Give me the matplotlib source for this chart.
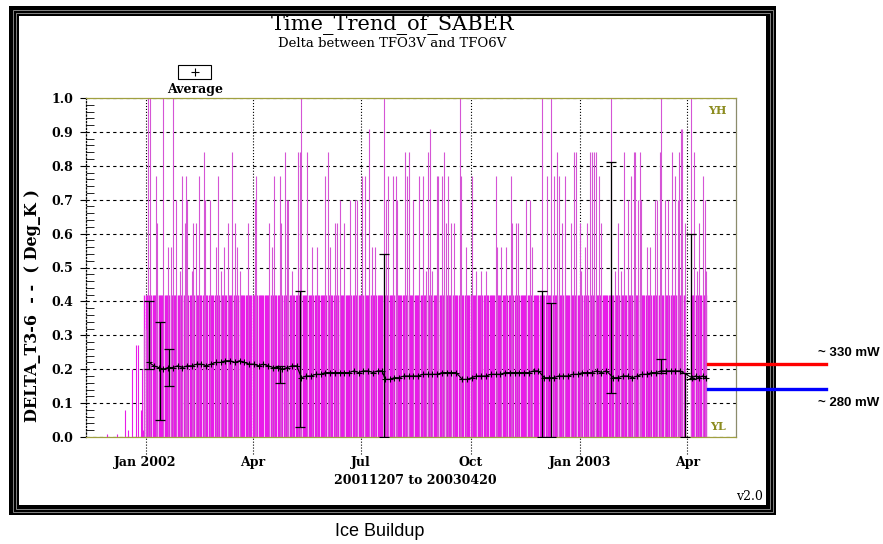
import numpy as np
import matplotlib
matplotlib.use('Agg')
import matplotlib.pyplot as plt
import matplotlib.dates as mdates
from matplotlib.patches import Rectangle
from matplotlib.lines import Line2D
from matplotlib.ticker import FuncFormatter, MultipleLocator

# dias contados desde 2002-01-01
t0 = np.datetime64('2002-01-01')

# diciembre 2001: pocos datos sueltos
dec_days = [-32, -24, -17, -15, -11, -8, -6, -4, -3, -2]
dec_max = [0.01, 0.01, 0.08, 0.02, 0.20, 0.27, 0.27, 0.08, 0.20, 0.02]

# banda densa de maximos diarios
dense_first = -1
dense_last = 471
dense_level = 0.42
gap_days = [454, 455, 456, 457]

# picos por encima de la banda (1.0 = fuera de escala)
spike_days = [-1, 0, 2, 4, 9, 10, 15, 19, 21, 23, 26, 29, 31, 33, 34, 35, 39, 40, 42, 45,
              49, 50, 54, 59, 61, 63, 66, 69, 73, 75, 77, 79, 86,
              92, 93, 104, 106, 108, 113, 114, 117, 119, 120, 123, 128, 130, 131, 136,
              140, 144, 151, 153, 155, 159, 161, 163, 167, 172, 176, 178, 182, 184, 188,
              190, 193, 200, 202, 204, 208, 210, 211, 218, 220, 221, 225,
              230, 233, 236, 237, 239, 241, 245, 246, 249, 251, 252, 254, 257, 259, 264,
              265, 269, 274, 278, 282, 286, 294, 295, 299, 303, 307, 308, 311, 313, 320,
              323, 325, 333, 337, 341, 343, 346, 347, 350, 352, 357, 360, 362,
              365, 366, 369, 371, 373, 375, 377, 378, 381, 383, 391, 394, 397, 399, 402,
              405, 408, 410, 411, 414, 415, 416, 421, 424, 428, 430, 432, 433, 436, 439,
              442, 445, 447, 448, 450, 451, 453, 458, 461, 463, 465, 468, 470, 471]
spike_max = [0.32, 0.32, 1.0, 1.0, 0.77, 0.63, 1.0, 0.56, 0.56, 1.0, 0.70, 0.49, 0.77, 0.63, 0.77, 0.70, 0.49, 0.63, 0.63, 0.77,
             0.84, 0.70, 0.70, 0.56, 0.77, 0.49, 0.56, 0.63, 0.84, 0.63, 0.56, 0.49, 0.63,
             0.70, 0.77, 0.63, 0.56, 0.77, 0.77, 0.63, 0.84, 0.70, 0.70, 0.49, 0.84, 0.84, 1.0, 0.84,
             0.56, 0.56, 0.77, 0.84, 0.56, 0.63, 0.63, 0.70, 0.63, 0.70, 0.70, 0.70, 0.77, 0.77, 0.91,
             0.56, 0.56, 1.0, 0.70, 0.77, 0.77, 0.77, 0.70, 0.84, 0.77, 0.84, 0.70,
             0.77, 0.77, 0.49, 0.84, 0.91, 0.49, 0.77, 0.77, 0.77, 0.84, 0.63, 0.77, 0.63, 0.63, 1.0,
             0.77, 0.56, 0.77, 0.49, 0.49, 0.49, 0.77, 0.56, 0.56, 0.56, 0.77, 0.63, 0.63, 0.63, 0.70,
             0.70, 0.56, 1.0, 0.77, 1.0, 0.77, 0.84, 0.77, 0.63, 0.77, 0.63, 0.84, 0.84,
             0.63, 0.49, 0.56, 0.63, 0.84, 0.84, 0.84, 0.84, 0.77, 0.63, 1.0, 0.49, 0.63, 0.49, 0.84,
             0.70, 0.77, 0.84, 0.84, 0.70, 0.84, 0.70, 0.56, 0.56, 0.70, 0.70, 0.84, 1.0, 0.70, 0.70,
             0.84, 0.77, 0.70, 0.84, 0.91, 0.91, 0.63, 1.0, 0.84, 0.49, 0.63, 0.77, 0.70, 0.49]

# promedio diario
avg_days = [3, 7, 11, 15, 19, 23, 27, 31, 35, 39, 43, 47, 51, 55, 59, 63, 67, 71, 75, 79,
            83, 87, 91, 95, 99, 103, 107, 111, 115, 119, 123, 127,
            131, 135, 139, 143, 147, 151, 155, 159, 163, 167, 171, 175, 179, 183, 187, 191, 195, 199,
            201, 205, 209, 213, 217, 221, 225, 229, 233, 237, 241, 245, 249, 253, 257, 261,
            266, 270, 274, 278, 282, 286, 290, 294, 298, 302, 306, 310, 314, 318, 322, 326, 330,
            335, 339, 343, 347, 351, 355, 359, 363, 367, 371, 375, 379, 383, 387,
            393, 397, 401, 405, 409, 413, 417, 421, 425, 429, 433, 437, 441, 445, 449,
            459, 462, 465, 468, 471]
avg_vals = [0.22, 0.21, 0.205, 0.20, 0.205, 0.205, 0.21, 0.205, 0.21, 0.21, 0.215, 0.215, 0.21, 0.215,
            0.22, 0.22, 0.225, 0.225, 0.22, 0.225, 0.22, 0.215, 0.215, 0.21, 0.215, 0.21, 0.205, 0.205,
            0.20, 0.205, 0.21, 0.21,
            0.175, 0.18, 0.18, 0.185, 0.185, 0.19, 0.19, 0.19, 0.19, 0.19, 0.19, 0.195, 0.19, 0.195,
            0.195, 0.19, 0.195, 0.195,
            0.17, 0.17, 0.175, 0.175, 0.18, 0.18, 0.18, 0.18, 0.185, 0.185, 0.185, 0.185, 0.19, 0.19,
            0.19, 0.19,
            0.17, 0.17, 0.175, 0.18, 0.18, 0.18, 0.185, 0.185, 0.185, 0.19, 0.19, 0.19, 0.19, 0.19,
            0.19, 0.195, 0.195,
            0.175, 0.175, 0.175, 0.18, 0.18, 0.18, 0.185, 0.185, 0.19, 0.19, 0.19, 0.195, 0.19, 0.195,
            0.175, 0.175, 0.18, 0.18, 0.175, 0.18, 0.185, 0.185, 0.19, 0.19, 0.195, 0.195, 0.195,
            0.195, 0.195,
            0.175, 0.18, 0.175, 0.18, 0.175]

# barras de error
bar_days = [3, 12, 20, 113, 130, 200, 333, 341, 391, 433, 453, 458]
bar_lo = [0.20, 0.05, 0.15, 0.16, 0.03, 0.00, 0.00, 0.00, 0.13, 0.19, 0.00, 0.17]
bar_hi = [0.40, 0.34, 0.26, 0.21, 0.43, 0.54, 0.43, 0.395, 0.81, 0.23, 0.19, 0.60]

MAG = '#e81ce8'
SERIF = 'DejaVu Serif'
W, H = 883, 544


def days_to_num(days):
    return mdates.date2num(t0 + np.array(days).astype('timedelta64[D]'))


def fx(px):
    return px / W


def fy(py):
    return 1 - py / H


fig = plt.figure(figsize=(W / 100, H / 100), dpi=100)

# marco negro
fig.add_artist(Rectangle((fx(9), fy(515)), (776 - 9) / W, (515 - 6) / H,
                         transform=fig.transFigure, facecolor='black', edgecolor='none', zorder=-5))
for ins in [3.5, 6.5]:
    fig.add_artist(Rectangle((fx(9 + ins), fy(515 - ins)), (767 - 2 * ins) / W, (509 - 2 * ins) / H,
                             transform=fig.transFigure, facecolor='none', edgecolor='#9a9a9a',
                             lw=0.6, zorder=-4))
fig.add_artist(Rectangle((fx(19), fy(505)), (766 - 19) / W, (505 - 16) / H,
                         transform=fig.transFigure, facecolor='white', edgecolor='none', zorder=-3))

ax = fig.add_axes([fx(86), fy(437), 650 / W, 339 / H])

dense_days = [d for d in range(dense_first, dense_last + 1) if d not in gap_days]
ax.vlines(days_to_num(dense_days), 0, dense_level, color=MAG, lw=0.95, zorder=2)
ax.vlines(days_to_num(dec_days), 0, dec_max, color=MAG, lw=0.8, zorder=2)
ax.vlines(days_to_num(spike_days), 0, spike_max, color='#d555d5', lw=0.8, zorder=2)

ax.plot(days_to_num(avg_days), avg_vals, color='black', lw=0.8, marker='+', ms=5, mew=0.8, zorder=4)
lo = np.array(bar_lo)
hi = np.array(bar_hi)
ax.errorbar(days_to_num(bar_days), (lo + hi) / 2, yerr=(hi - lo) / 2, fmt='none',
            ecolor='black', elinewidth=0.9, capsize=3.5, capthick=0.9, zorder=4)

ax.set_ylim(0, 1.0)
ax.set_xlim(days_to_num([-50])[0], days_to_num([496])[0])

ax.yaxis.set_major_locator(MultipleLocator(0.1))
ax.yaxis.set_minor_locator(MultipleLocator(0.02))
ax.yaxis.set_major_formatter(FuncFormatter(lambda v, p: '%.1f' % v))
ax.tick_params(axis='y', which='major', direction='out', length=4, width=0.8, pad=5)
ax.tick_params(axis='y', which='minor', direction='in', length=6, width=0.6)

ax.xaxis.set_major_locator(mdates.MonthLocator(bymonth=[1, 4, 7, 10]))


def fmt_date(v, p):
    d = mdates.num2date(v)
    if d.month == 1:
        return d.strftime('%b %Y')
    return d.strftime('%b')


ax.xaxis.set_major_formatter(FuncFormatter(fmt_date))
ax.tick_params(axis='x', length=0, pad=14)
for lab in ax.get_xticklabels() + ax.get_yticklabels():
    lab.set_fontfamily(SERIF)
    lab.set_fontweight('bold')
    lab.set_fontsize(9)

# rejilla
ax.grid(axis='y', which='major', color='black', ls=(0, (3, 3)), lw=0.8)
for tick in ax.get_xticks():
    ax.plot([tick, tick], [-0.05, 1.0], color='black', ls=':', lw=0.8,
            transform=ax.get_xaxis_transform(), clip_on=False, zorder=1)
ax.set_axisbelow(True)

ax.spines['top'].set_color('#a0a040')
ax.spines['bottom'].set_color('#a0a040')
ax.spines['right'].set_color('#8c8c6c')
ax.spines['left'].set_linestyle(':')
ax.spines['left'].set_color('black')
for s in ax.spines.values():
    s.set_linewidth(0.9)

ax.text(0.985, 0.98, 'YH', transform=ax.transAxes, ha='right', va='top', color='#8c8c20',
        fontsize=8, fontweight='bold', fontfamily=SERIF)
ax.text(0.985, 0.015, 'YL', transform=ax.transAxes, ha='right', va='bottom', color='#8c8c20',
        fontsize=8, fontweight='bold', fontfamily=SERIF)

# textos
fig.text(fx(393), fy(30), 'Time_Trend_of_SABER', ha='center', va='baseline', fontsize=15,
         fontfamily=SERIF)
fig.text(fx(392), fy(47), 'Delta between TFO3V and TFO6V', ha='center', va='baseline',
         fontsize=9.5, fontfamily=SERIF)
fig.add_artist(Rectangle((fx(178), fy(79)), 33 / W, 14 / H, transform=fig.transFigure,
                         facecolor='none', edgecolor='black', lw=0.8))
fig.add_artist(Line2D([fx(194.5)], [fy(72)], marker='+', color='black', ms=6, mew=0.8))
fig.text(fx(195), fy(90), 'Average', ha='center', va='center', fontsize=9,
         fontweight='bold', fontfamily=SERIF)
fig.text(fx(33), fy(306), 'DELTA_T3-6  - -  ( Deg_K )', rotation=90, ha='center', va='center',
         fontsize=11.5, fontweight='bold', fontfamily=SERIF)
fig.text(fx(415), fy(480), '20011207 to 20030420', ha='center', va='center', fontsize=9,
         fontweight='bold', fontfamily=SERIF)
fig.text(fx(763), fy(497), 'v2.0', ha='right', va='center', fontsize=9, fontfamily=SERIF)
fig.text(fx(380), fy(531), 'Ice Buildup', ha='center', va='center', fontsize=13,
         fontfamily='Liberation Sans')

# lineas de potencia
fig.add_artist(Line2D([fx(708), fx(826)], [fy(364), fy(364)], color='#ff0000', lw=2.4, zorder=10))
fig.add_artist(Line2D([fx(708), fx(826)], [fy(389), fy(389)], color='#0000ff', lw=2.4, zorder=10))
fig.text(fx(818), fy(353), '~ 330 mW', ha='left', va='center', fontsize=9.5, fontweight='bold',
         fontfamily='Liberation Sans')
fig.text(fx(818), fy(403), '~ 280 mW', ha='left', va='center', fontsize=9.5, fontweight='bold',
         fontfamily='Liberation Sans')

fig.savefig('out.png', dpi=100)
